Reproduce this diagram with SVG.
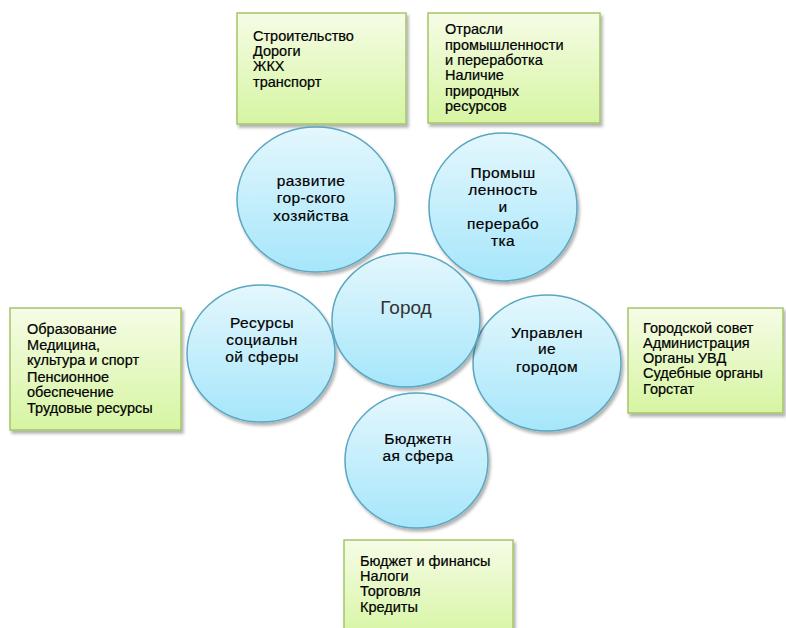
<svg xmlns="http://www.w3.org/2000/svg" width="786" height="628" viewBox="0 0 786 628">
<defs>
<linearGradient id="gBox" x1="0" y1="0" x2="0" y2="1">
<stop offset="0" stop-color="#f6fce6"/>
<stop offset="1" stop-color="#d6f5a2"/>
</linearGradient>
<linearGradient id="gCirc" x1="0" y1="0" x2="0" y2="1">
<stop offset="0" stop-color="#e4f7fd"/>
<stop offset="1" stop-color="#a6e6fb"/>
</linearGradient>
<filter id="sh" x="-10%" y="-10%" width="125%" height="125%">
<feDropShadow dx="2" dy="3" stdDeviation="1.8" flood-color="#000" flood-opacity="0.3"/>
</filter>
</defs>
<style>
.box{fill:url(#gBox);stroke:#a4c56a;stroke-width:1.5;filter:url(#sh)}
.circ{fill:url(#gCirc);stroke:#5aa7c2;stroke-width:1.5;filter:url(#sh)}
.bt{font-family:"Liberation Sans",Arial,sans-serif;font-size:14.5px;fill:#000;stroke:#000;stroke-width:0.2}
.ct{font-family:"Liberation Sans",Arial,sans-serif;font-size:15.5px;fill:#000;text-anchor:middle;letter-spacing:0.4px;stroke:#000;stroke-width:0.2}
.big{font-family:"Liberation Sans",Arial,sans-serif;font-size:19px;fill:#333;text-anchor:middle}
</style>
<rect width="786" height="628" fill="#fff"/>
<g id="connectors"/>
<g id="box-top-left">
<rect class="box" x="237" y="13" width="169" height="111"/>
<text class="bt"><tspan x="253" y="41">Строительство</tspan><tspan x="253" y="56">Дороги</tspan><tspan x="253" y="71">ЖКХ</tspan><tspan x="253" y="87">транспорт</tspan></text>
</g>
<g id="box-top-right">
<rect class="box" x="428" y="13" width="172" height="110"/>
<text class="bt"><tspan x="445" y="34">Отрасли</tspan><tspan x="445" y="50">промышленности</tspan><tspan x="445" y="65">и переработка</tspan><tspan x="445" y="80">Наличие</tspan><tspan x="445" y="96">природных</tspan><tspan x="445" y="111">ресурсов</tspan></text>
</g>
<g id="box-left">
<rect class="box" x="10" y="308" width="171" height="122"/>
<text class="bt"><tspan x="27" y="334">Образование</tspan><tspan x="27" y="350">Медицина,</tspan><tspan x="27" y="365">культура и спорт</tspan><tspan x="27" y="382">Пенсионное</tspan><tspan x="27" y="397">обеспечение</tspan><tspan x="27" y="413">Трудовые ресурсы</tspan></text>
</g>
<g id="box-right">
<rect class="box" x="628" y="308" width="155" height="105"/>
<text class="bt"><tspan x="643" y="333">Городской совет</tspan><tspan x="643" y="348">Администрация</tspan><tspan x="643" y="363">Органы УВД</tspan><tspan x="643" y="378">Судебные органы</tspan><tspan x="643" y="394">Горстат</tspan></text>
</g>
<g id="box-bottom">
<rect class="box" x="344" y="540" width="169" height="100"/>
<text class="bt"><tspan x="360" y="566">Бюджет и финансы</tspan><tspan x="360" y="581">Налоги</tspan><tspan x="360" y="596">Торговля</tspan><tspan x="360" y="612">Кредиты</tspan></text>
</g>
<g id="circle-hozyaystvo">
<ellipse class="circ" cx="316" cy="199.5" rx="79" ry="72.5"/>
<text class="ct"><tspan x="311" y="186">развитие</tspan><tspan x="311" y="203">гор-ского</tspan><tspan x="311" y="221">хозяйства</tspan></text>
</g>
<g id="circle-prom">
<ellipse class="circ" cx="503" cy="207" rx="74" ry="74"/>
<text class="ct"><tspan x="503" y="178">Промыш</tspan><tspan x="503" y="195">ленность</tspan><tspan x="503" y="212">и</tspan><tspan x="503" y="229">перерабо</tspan><tspan x="503" y="246">тка</tspan></text>
</g>
<g id="circle-resursy">
<ellipse class="circ" cx="261" cy="353.5" rx="74" ry="68.5"/>
<text class="ct"><tspan x="262" y="328">Ресурсы</tspan><tspan x="262" y="345">социальн</tspan><tspan x="262" y="362">ой сферы</tspan></text>
</g>
<g id="circle-upravlenie">
<ellipse class="circ" cx="547" cy="363" rx="74" ry="68"/>
<text class="ct"><tspan x="547" y="338">Управлен</tspan><tspan x="547" y="354">ие</tspan><tspan x="547" y="372">городом</tspan></text>
</g>
<g id="circle-budzhet">
<ellipse class="circ" cx="416.5" cy="460.5" rx="71.5" ry="67.5"/>
<text class="ct"><tspan x="418" y="444">Бюджетн</tspan><tspan x="418" y="461">ая сфера</tspan></text>
</g>
<g id="circle-gorod">
<ellipse class="circ" cx="406" cy="320" rx="74" ry="67"/>
<text class="big" x="406" y="314">Город</text>
</g>
</svg>
